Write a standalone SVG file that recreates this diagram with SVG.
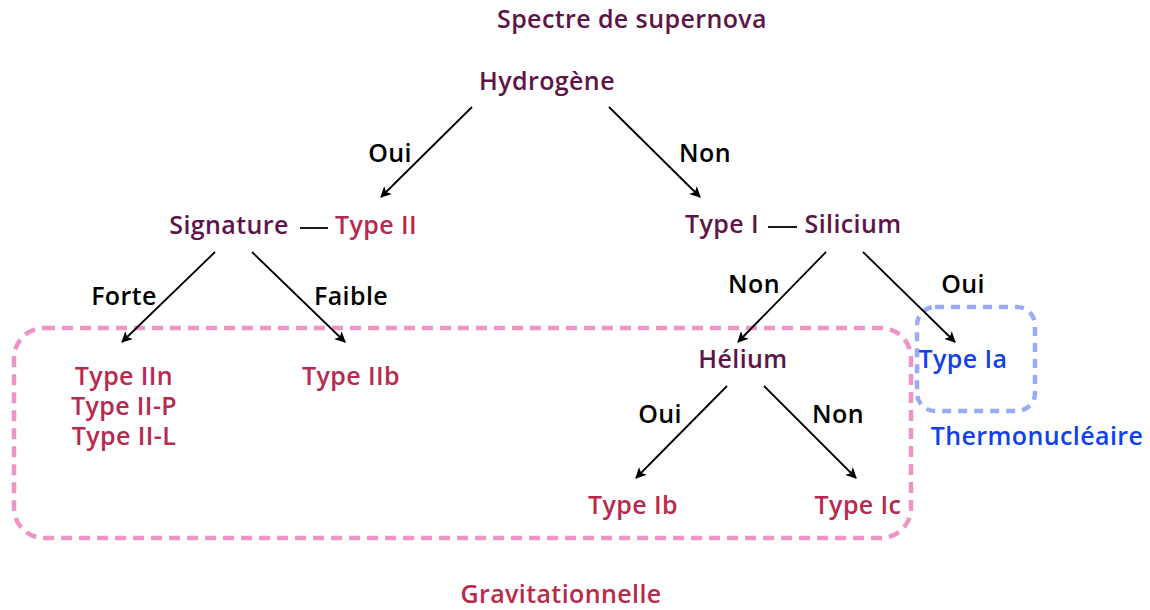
<svg xmlns="http://www.w3.org/2000/svg" width="1150" height="610" viewBox="0 0 1150 610">
<style>
text{font-family:"Open Sans","DejaVu Sans",sans-serif;font-weight:600;font-size:25px;letter-spacing:0.4px;text-anchor:middle}
.q{fill:#5e1447}
.t{fill:#b8294e}
.b{fill:#1040f0}
.k{fill:#000000}
.conn line{stroke:#000;stroke-width:1.8;marker-end:url(#ah)}
.dash{stroke:#000;stroke-width:1.8}
.gz{fill:none;stroke:#ee94c6;stroke-width:4.5;stroke-dasharray:11 7}
.th{fill:none;stroke:#9caaf6;stroke-width:4.5;stroke-dasharray:9 7}
</style>
<defs>
<marker id="ah" viewBox="0 0 10 10" refX="9" refY="5" markerWidth="13" markerHeight="11" markerUnits="userSpaceOnUse" orient="auto">
<path d="M0,0 L10,5 L0,10 L2.5,5 z" fill="#000"/>
</marker>
</defs>
<rect width="1150" height="610" fill="#fff"/>
<g id="zone-gravitationnelle">
<rect class="gz" x="14" y="328" width="897" height="210" rx="30"/>
<text class="t" x="561" y="603">Gravitationnelle</text>
</g>
<g id="zone-thermonucleaire">
<rect class="th" x="917" y="307" width="118" height="104" rx="18"/>
<text class="b" x="1037" y="445">Thermonucléaire</text>
</g>
<g id="connectors" class="conn">
<line x1="472" y1="107" x2="381" y2="197"/>
<line x1="609" y1="107" x2="700" y2="197"/>
<line x1="215" y1="252" x2="122" y2="342"/>
<line x1="252" y1="252" x2="345" y2="342"/>
<line x1="826" y1="252" x2="738" y2="342"/>
<line x1="863" y1="252" x2="955" y2="342"/>
<line x1="727" y1="386" x2="636" y2="478"/>
<line x1="764" y1="386" x2="856" y2="478"/>
<text class="k" x="390" y="162">Oui</text>
<text class="k" x="705" y="162">Non</text>
<text class="k" x="124" y="305">Forte</text>
<text class="k" x="351" y="305">Faible</text>
<text class="k" x="754" y="293">Non</text>
<text class="k" x="963" y="293">Oui</text>
<text class="k" x="660" y="423">Oui</text>
<text class="k" x="838" y="423">Non</text>
</g>
<g id="title"><text class="q" x="632" y="28">Spectre de supernova</text></g>
<g id="hydrogene"><text class="q" x="547" y="90">Hydrogène</text></g>
<g id="signature">
<text class="q" x="229" y="234">Signature</text>
<line class="dash" x1="300" y1="228" x2="328" y2="228"/>
<text class="t" x="376" y="234">Type II</text>
</g>
<g id="silicium">
<text class="q" x="722" y="233">Type I</text>
<line class="dash" x1="768" y1="227" x2="797" y2="227"/>
<text class="q" x="853" y="233">Silicium</text>
</g>
<g id="type-ii-group">
<text class="t" x="124" y="385">Type IIn</text>
<text class="t" x="124" y="415">Type II-P</text>
<text class="t" x="124" y="445">Type II-L</text>
</g>
<g id="type-iib"><text class="t" x="351" y="385">Type IIb</text></g>
<g id="helium"><text class="q" x="743" y="368">Hélium</text></g>
<g id="type-ia"><text class="b" x="963" y="368">Type Ia</text></g>
<g id="type-ib"><text class="t" x="633" y="514">Type Ib</text></g>
<g id="type-ic"><text class="t" x="858" y="514">Type Ic</text></g>
</svg>
